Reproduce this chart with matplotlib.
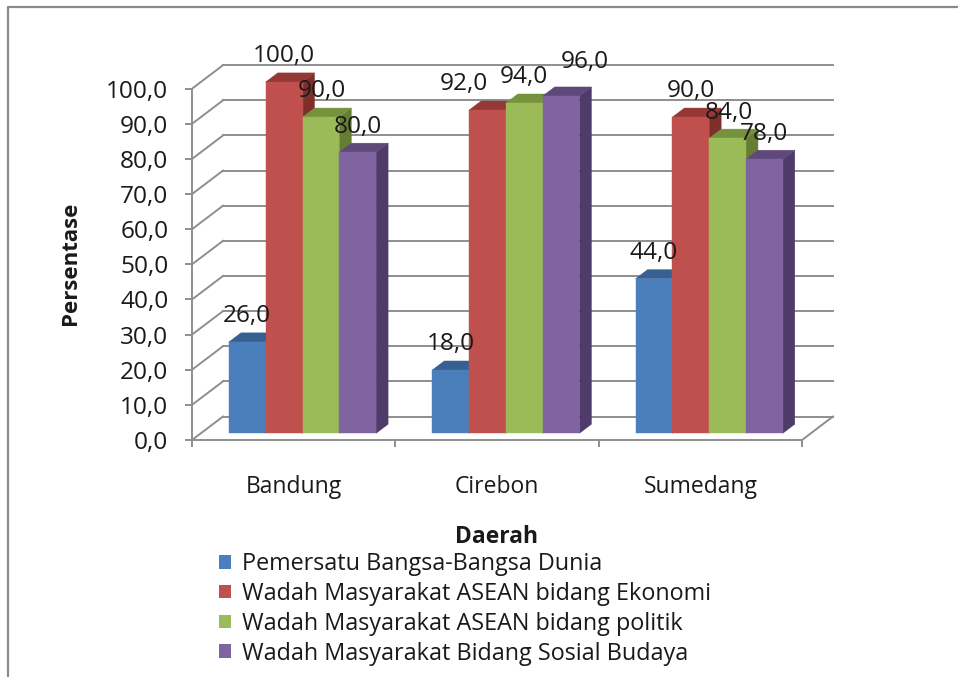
import matplotlib
matplotlib.use("Agg")
import matplotlib.pyplot as plt
from matplotlib.lines import Line2D
from matplotlib.patches import Patch, Polygon

plt.rcParams["font.family"] = ["Open Sans", "DejaVu Sans"]

regions = ["Bandung", "Cirebon", "Sumedang"]
series_names = [
    "Pemersatu Bangsa-Bangsa Dunia",
    "Wadah Masyarakat ASEAN bidang Ekonomi",
    "Wadah Masyarakat ASEAN bidang politik",
    "Wadah Masyarakat Bidang Sosial Budaya",
]
pemersatu = [26, 18, 44]
ekonomi = [100, 92, 90]
politik = [90, 94, 84]
sosial = [80, 96, 78]
y_ticks = list(range(0, 101, 10))

front_colors = ["#4A7FBB", "#C0504D", "#9BBB59", "#8064A2"]
top_colors = ["#376092", "#953735", "#76923C", "#5F497A"]
side_colors = ["#2F5480", "#7F2E2C", "#657E33", "#4E3B69"]

GRID = "#8E8E8E"
TEXT = "#1A1A1A"

# oblique projection: one unit of depth, in axis units
DEPTH_X = 31 / 203.33
DEPTH_Y = 23.5 / 3.513
BAR_W = 0.181
BAR_D0 = 0.285
BAR_D1 = 0.672

# labels the original moved away from the bar centre: (region, series) -> points
label_nudges = {
    (0, 2): (1, 0),
    (1, 1): (-17, 0),
    (1, 3): (17, 6),
    (2, 2): (1, 0),
}


def project(x, y, d):
    return x + d * DEPTH_X, y + d * DEPTH_Y


def draw_bar(ax, x0, value, i):
    x1 = x0 + BAR_W
    front = [project(x0, 0, BAR_D0), project(x1, 0, BAR_D0),
             project(x1, value, BAR_D0), project(x0, value, BAR_D0)]
    side = [project(x1, 0, BAR_D0), project(x1, 0, BAR_D1),
            project(x1, value, BAR_D1), project(x1, value, BAR_D0)]
    top = [project(x0, value, BAR_D0), project(x1, value, BAR_D0),
           project(x1, value, BAR_D1), project(x0, value, BAR_D1)]
    for pts, color in [(side, side_colors[i]), (top, top_colors[i]), (front, front_colors[i])]:
        ax.add_patch(Polygon(pts, closed=True, facecolor=color, edgecolor=color,
                             linewidth=0.3, clip_on=False, zorder=3))


fig = plt.figure(figsize=(9.58, 6.77), dpi=100)
ax = fig.add_axes([192 / 958, 1 - 440 / 677, 610 / 958, 351.3 / 677])
ax.set_xlim(0, 3)
ax.set_ylim(0, 100)
ax.patch.set_alpha(0)

for spine in ["top", "right"]:
    ax.spines[spine].set_visible(False)
for spine in ["left", "bottom"]:
    ax.spines[spine].set_color(GRID)
    ax.spines[spine].set_linewidth(1.4)

# back wall and left wall lines
for v in y_ticks:
    x_back, y_back = project(0, v, 1)
    x_end, _ = project(3, v, 1)
    ax.plot([x_back, x_end], [y_back, y_back], color=GRID, lw=1.4, clip_on=False, zorder=1)
    ax.plot([0, x_back], [v, y_back], color=GRID, lw=1.4, clip_on=False, zorder=1)
x_back, y_back = project(3, 0, 1)
ax.plot([3, x_back], [0, y_back], color=GRID, lw=1.4, clip_on=False, zorder=1)

ax.set_yticks(y_ticks)
ax.set_yticklabels([f"{v:.1f}".replace(".", ",") for v in y_ticks], fontsize=17.6, color=TEXT)
ax.set_xticks([0.5, 1.5, 2.5])
ax.set_xticklabels(regions, fontsize=16.5, color=TEXT)
ax.set_xticks([0, 1, 2, 3], minor=True)
ax.tick_params(axis="x", which="major", length=0, pad=25)
ax.tick_params(axis="x", which="minor", length=5, width=1.4, color=GRID)
ax.tick_params(axis="y", length=5, width=1.4, color=GRID, pad=12)

all_series = [pemersatu, ekonomi, politik, sosial]
for c in range(len(regions)):
    for i, values in enumerate(all_series):
        center = c + 0.5 + (i - 2) * BAR_W
        draw_bar(ax, center, values[c], i)

for c in range(len(regions)):
    for i, values in enumerate(all_series):
        x, y = project(c + 0.5 + (i - 1.5) * BAR_W, values[c], BAR_D0)
        dx, dy = label_nudges.get((c, i), (0, 0))
        ax.annotate(f"{values[c]:.1f}".replace(".", ","), (x, y), xytext=(dx, 18.5 + dy),
                    textcoords="offset points", ha="center", va="center",
                    fontsize=17.6, color=TEXT, zorder=5, annotation_clip=False)

fig.text(71 / 958, 1 - 263 / 677, "Persentase", rotation=90, ha="center", va="center",
         fontsize=16, fontweight="bold", color=TEXT)
fig.text(497 / 958, 1 - 537 / 677, "Daerah", ha="center", va="center",
         fontsize=16.5, fontweight="bold", color=TEXT)

handles = [Patch(facecolor=c, edgecolor="none") for c in front_colors]
fig.legend(handles, series_names, loc="upper left", bbox_to_anchor=(198 / 958, 1 - 531 / 677),
           frameon=False, fontsize=16.8, handlelength=0.52, handleheight=0.52,
           handletextpad=0.47, labelspacing=0.25, labelcolor=TEXT)

# outer frame of the pasted chart
fig.add_artist(Line2D([8 / 958, 8 / 958, 1], [0, 1 - 7 / 677, 1 - 7 / 677],
                      color="#8A8A8A", lw=1.6))

fig.savefig("out.png", dpi=100)
